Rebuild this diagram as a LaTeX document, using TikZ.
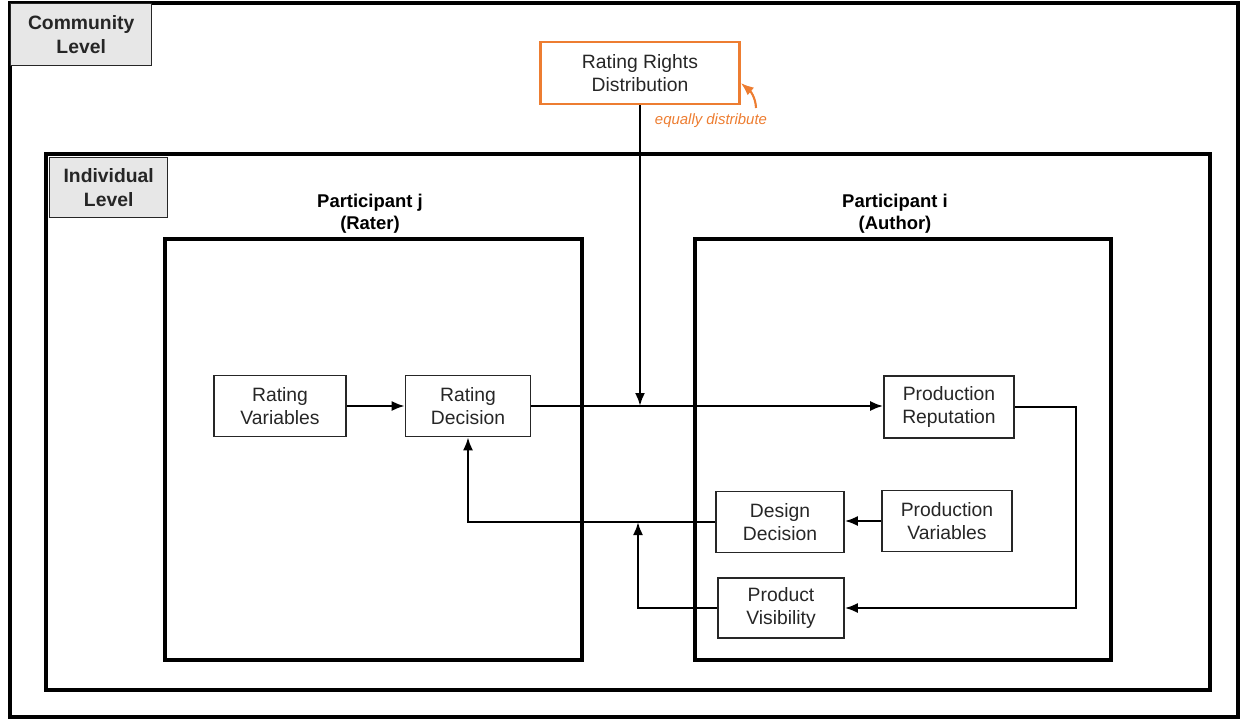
\documentclass[tikz,border=0pt]{standalone}
\usepackage{fontspec}
\setmainfont{Liberation Sans}
\usetikzlibrary{arrows.meta, shapes}

\definecolor{rrorange}{HTML}{ED7D31}
\definecolor{rrgrey}{HTML}{E7E7E7}
\definecolor{rrtext}{HTML}{262626}

\begin{document}
\begin{tikzpicture}[
    x=0.02cm, y=-0.02cm,
    >={Latex[length=2.6mm, width=2mm]},
    rrframe/.style={draw=black, line width=2pt},
    rrlevel/.style={shape=rectangle, draw=rrtext, fill=rrgrey, line width=0.8pt, anchor=north west, align=center, font=\fontsize{11}{13.5}\selectfont\bfseries, text=rrtext},
    rrhead/.style={align=center, font=\fontsize{10.5}{12.5}\selectfont\bfseries},
    rrbox/.style={shape=rectangle, draw=rrtext, line width=0.9pt, minimum width=2.58cm, minimum height=1.22cm, align=center, font=\fontsize{11}{13.5}\selectfont, text=rrtext},
    rrlink/.style={line width=1.3pt},
]
\useasboundingbox (0,0) rectangle (1244,721);

% frames
\draw[rrframe] (10,3) rectangle (1238,717);
\draw[rrframe, line width=2.6pt] (46,154) rectangle (1210,690);
\draw[rrframe] (165,239) rectangle (582,660);
\draw[rrframe] (695,239) rectangle (1111,660);

\node[rrlevel, minimum width=2.82cm, minimum height=1.24cm] (comm) at (10,3) {Community\\Level};
\node[rrlevel, minimum width=2.36cm, minimum height=1.2cm] (indiv) at (49,157) {Individual\\Level};

\node[rrhead] (rater) at (370,214) {Participant j\\(Rater)};
\node[rrhead] (author) at (895,214) {Participant i\\(Author)};

% community mechanism
\node[rrbox, draw=rrorange, line width=1.5pt, minimum width=3.98cm, minimum height=1.24cm] (rrd) at (640,73) {Rating Rights\\Distribution};
\coordinate (eqd) at (756,108);
\draw[rrorange, line width=1.2pt, ->] (eqd) to[out=92, in=-40] ([yshift=-0.2cm]rrd.east);
\node[text=rrorange, font=\fontsize{8.5}{10}\selectfont\itshape] (eqlabel) at (711,121) {equally distribute};

% rater side
\node[rrbox, minimum width=2.64cm] (rvar) at (280,406) {Rating\\Variables};
\node[rrbox, minimum width=2.5cm] (rdec) at (468,406) {Rating\\Decision};

% author side
\node[rrbox, minimum width=2.6cm, minimum height=1.24cm] (prep) at (949,407) {Production\\Reputation};
\node[rrbox, minimum width=2.56cm] (ddec) at (780,522) {Design\\Decision};
\node[rrbox, minimum width=2.6cm] (pvar) at (947,521) {Production\\Variables};
\node[rrbox, minimum width=2.52cm, minimum height=1.2cm] (pvis) at (781,608) {Product\\Visibility};

\coordinate (pvj) at (638,522);

\draw[rrlink, ->] (rvar) -- (rdec);
\draw[rrlink, ->] (rdec.east) -- (rdec.east -| prep.west);
\draw[rrlink, ->] (rrd.south) -- (rrd.south |- rdec.east);
\draw[rrlink, ->] (prep.east) -- ++(61,0) |- (pvis.east);
\draw[rrlink, ->] (pvar.west) -- (pvar.west -| ddec.east);
\draw[rrlink, ->] (ddec.west) -| (rdec.south);
\draw[rrlink, ->] (pvis.west) -| (pvj);
\end{tikzpicture}
\end{document}
